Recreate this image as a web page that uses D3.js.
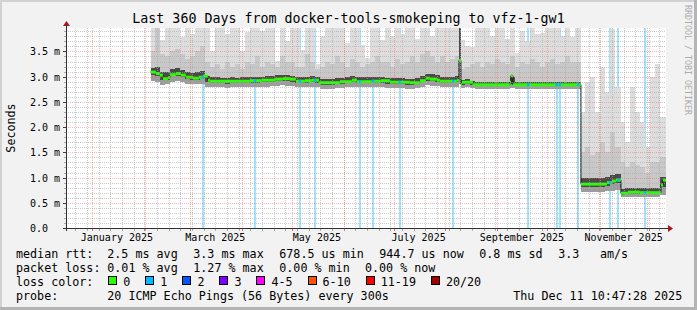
<!DOCTYPE html>
<html><head><meta charset="utf-8">
<script src="https://cdn.jsdelivr.net/npm/d3@7"></script>
<style>
html,body{margin:0;padding:0;background:#f2f2f2;}
svg{display:block;}
text{font-family:"DejaVu Sans Mono",monospace;}
</style>
</head><body>
<svg id="chart" width="697" height="310"></svg>
<script>
// ---------------- data ----------------
const title = "Last 360 Days from docker-tools-smokeping to vfz-1-gw1";
const startTime = "2024-12-16T10:47:28Z";
const endTime = "2025-12-11T10:47:28Z";
const yDomainMax = 3.965;
const yTickValues = [0, 0.5, 1.0, 1.5, 2.0, 2.5, 3.0, 3.5];
const yTickLabels = ["0.0", "0.5 m", "1.0 m", "1.5 m", "2.0 m", "2.5 m", "3.0 m", "3.5 m"];
const monthLabelDates = ["2025-01-01", "2025-03-01", "2025-05-01", "2025-07-01", "2025-09-01", "2025-11-01"];
const monthLabels = ["January 2025", "March 2025", "May 2025", "July 2025", "September 2025", "November 2025"];

// median rtt (ms) as steps: day-of-2025 where each value starts
const medDay = [35.2, 38.4, 40.8, 42.6, 45.6, 46.8, 50.4, 53.4, 56.4, 60.6, 64.2, 66.6, 69.6, 70.8, 94.8, 102,
  109.8, 114.6, 118.8, 122.4, 127.8, 132, 136.2, 148.8, 156, 159, 168, 173.4, 178.8, 190.8, 196.8, 200.4,
  202.8, 207, 208.8, 219, 220.2, 221.4, 222, 228.6, 250.8, 251.4, 252.6, 293.4, 309, 312, 314.4, 317.4,
  321.6, 328.8, 341.4, 342.6];
const medVal = [3.09, 3.06, 3.03, 2.96, 2.98, 3.04, 3.06, 3.03, 2.99, 2.97, 2.99, 3.01, 2.93, 2.91, 2.92, 2.93,
  2.95, 2.96, 2.95, 2.91, 2.92, 2.93, 2.88, 2.90, 2.93, 2.90, 2.91, 2.92, 2.89, 2.88, 2.92, 2.97,
  2.95, 2.93, 2.91, 2.93, 3.32, 2.85, 2.89, 2.84, 2.89, 3.02, 2.84, 0.87, 0.90, 0.93, 0.95, 0.69,
  0.71, 0.70, 0.85, 0.95];

// smoke (ping distribution, ms) sampled per bin starting at smokeDay
const smokeDay = [35.2, 38, 41, 44, 47, 50, 53, 56, 59, 62, 65, 68, 71, 74, 77, 80, 83, 86, 89, 92,
  95, 98, 101, 104, 107, 110, 113, 116, 119, 122, 125, 128, 131, 134, 137, 140, 143, 146, 149, 152,
  155, 158, 161, 164, 167, 170, 173, 176, 179, 182, 185, 188, 191, 194, 197, 200, 203, 206, 209, 212,
  215, 218, 220.4, 221.4, 224, 227, 230, 233, 236, 239, 242, 245, 248, 251, 254, 257, 260, 263, 266, 269,
  272, 275, 278, 281, 284, 287, 290, 293.4, 296, 299, 302, 305, 308, 311, 314, 317.4, 320, 323, 326, 329,
  332, 335, 338, 341];
const smokeMin = [2.92, 2.90, 2.84, 2.85, 2.90, 2.92, 2.90, 2.86, 2.85, 2.85,
  2.86, 2.80, 2.79, 2.79, 2.79, 2.78, 2.79, 2.79, 2.79, 2.79,
  2.80, 2.80, 2.80, 2.80, 2.81, 2.82, 2.83, 2.82, 2.81, 2.79,
  2.79, 2.79, 2.80, 2.79, 2.76, 2.76, 2.76, 2.77, 2.78, 2.79,
  2.80, 2.80, 2.79, 2.79, 2.79, 2.80, 2.80, 2.78, 2.77, 2.77,
  2.77, 2.76, 2.76, 2.78, 2.80, 2.83, 2.82, 2.81, 2.79, 2.79,
  2.79, 2.80, 2.86,
  2.78, 2.79, 2.77, 2.76, 2.76, 2.76, 2.76, 2.76,
  2.76, 2.76, 2.77, 2.76, 2.76, 2.76, 2.76, 2.76, 2.76, 2.76,
  2.76, 2.76, 2.76, 2.76, 2.76, 2.76,
  0.72, 0.72, 0.72, 0.72, 0.72, 0.73, 0.74, 0.75,
  0.61, 0.62, 0.62, 0.62, 0.62, 0.62, 0.62, 0.62, 0.66];
const smokeQ1 = [3.04, 3.01, 2.93, 2.94, 3.01, 3.02, 2.99, 2.95, 2.93, 2.94,
  2.97, 2.89, 2.87, 2.87, 2.87, 2.86, 2.87, 2.87, 2.87, 2.87,
  2.88, 2.88, 2.89, 2.89, 2.90, 2.91, 2.92, 2.91, 2.90, 2.87,
  2.88, 2.88, 2.89, 2.88, 2.84, 2.84, 2.84, 2.85, 2.86, 2.87,
  2.89, 2.88, 2.87, 2.87, 2.87, 2.88, 2.88, 2.86, 2.85, 2.85,
  2.85, 2.84, 2.84, 2.86, 2.89, 2.92, 2.91, 2.89, 2.87, 2.87,
  2.87, 2.89, 3.30,
  2.84, 2.85, 2.83, 2.81, 2.81, 2.81, 2.81, 2.81,
  2.81, 2.81, 2.85, 2.81, 2.81, 2.81, 2.81, 2.81, 2.81, 2.81,
  2.81, 2.81, 2.81, 2.81, 2.81, 2.81,
  0.82, 0.82, 0.82, 0.82, 0.82, 0.84, 0.87, 0.89,
  0.66, 0.67, 0.67, 0.67, 0.67, 0.67, 0.67, 0.67, 0.82];
const smokeQ3 = [3.18, 3.20, 3.10, 3.10, 3.16, 3.18, 3.14, 3.10, 3.08, 3.10,
  3.12, 3.02, 2.99, 2.99, 2.98, 2.98, 2.99, 2.98, 2.99, 2.99,
  3.00, 3.00, 3.00, 3.01, 3.02, 3.03, 3.04, 3.03, 3.02, 2.99,
  3.00, 3.00, 3.01, 3.00, 2.96, 2.96, 2.96, 2.97, 2.98, 2.99,
  3.01, 3.00, 2.99, 2.99, 2.99, 3.00, 3.00, 2.98, 2.97, 2.97,
  2.97, 2.96, 2.96, 2.98, 3.02, 3.06, 3.05, 3.03, 3.00, 3.00,
  3.00, 3.02, 4.30,
  2.93, 2.95, 2.92, 2.90, 2.90, 2.90, 2.90, 2.90,
  2.90, 2.90, 3.00, 2.90, 2.90, 2.90, 2.90, 2.90, 2.90, 2.90,
  2.90, 2.90, 2.90, 2.90, 2.90, 2.90,
  1.00, 1.00, 0.99, 0.99, 1.00, 1.02, 1.05, 1.07,
  0.78, 0.80, 0.80, 0.79, 0.79, 0.79, 0.79, 0.79, 1.02];
const smokeP90 = [3.50, 4.30, 3.45, 3.40, 3.50, 3.55, 3.45, 3.35, 3.40, 3.50,
  3.60, 3.30, 3.20, 3.25, 3.15, 3.30, 3.20, 3.25, 3.15, 3.30,
  3.25, 3.40, 3.20, 3.30, 3.25, 3.20, 3.40, 3.30, 3.30, 3.20,
  3.20, 3.45, 3.30, 3.15, 3.20, 3.30, 3.25, 3.40, 3.30, 3.20,
  3.35, 3.30, 3.20, 3.25, 3.30, 3.40, 3.30, 3.30, 3.20, 3.35,
  3.25, 3.30, 3.40, 3.30, 3.45, 3.50, 3.40, 3.30, 3.40, 3.30,
  3.35, 3.40, 4.30,
  3.15, 3.20, 3.25, 3.30, 3.20, 3.30, 3.25, 3.35,
  3.30, 3.25, 3.40, 3.20, 3.30, 3.25, 3.35, 3.30, 3.20, 3.30,
  3.35, 3.25, 3.30, 3.40, 3.30, 3.30,
  1.50, 1.60, 1.45, 1.50, 1.70, 1.50, 1.90, 1.60,
  1.30, 1.20, 1.30, 1.25, 1.20, 1.10, 1.30, 1.30, 1.40];
const smokeMax = [4.3, 4.3, 3.72, 4.3, 4.3, 4.3, 3.78, 4.3, 3.85, 4.3,
  4.3, 4.3, 3.50, 4.3, 4.3, 3.85, 4.3, 4.3, 3.50, 3.88,
  4.3, 4.3, 3.90, 4.3, 4.3, 3.32, 4.3, 3.70, 4.3, 4.3,
  3.52, 4.3, 4.3, 3.26, 3.80, 4.3, 4.3, 4.3, 4.3, 3.66,
  4.3, 4.3, 3.62, 3.38, 4.3, 4.3, 3.72, 4.3, 3.80, 4.3,
  3.85, 4.3, 4.3, 3.75, 4.3, 4.3, 3.80, 4.3, 4.3, 4.3,
  4.3, 4.3, 4.3,
  3.72, 3.60, 3.59, 4.3, 4.3, 4.3, 3.80, 4.3,
  4.3, 3.75, 4.3, 3.46, 3.90, 3.70, 4.3, 3.85, 3.86, 4.3,
  4.3, 4.3, 3.80, 4.3, 3.78, 4.3,
  2.3, 2.9, 3.0, 2.3, 3.2, 2.7, 3.95, 2.8,
  2.1, 1.7, 2.8, 2.3, 2.1, 1.6, 3.0, 3.26, 2.2];

// packet loss events (day-of-2025) and lost pings out of 20
const lossDay = [66.4, 97.8, 124.8, 133.8, 160.8, 168.8, 184.8, 216.8, 261.8, 278.8, 280.8, 291.8, 310.8, 315.8, 331.8];
const lossCount = [1, 1, 1, 1, 1, 1, 1, 1, 1, 1, 1, 1, 1, 1, 1];

const lossLabels = ["0", "1", "2", "3", "4-5", "6-10", "11-19", "20/20"];
const lossColors = ["#26ff00", "#00b8ff", "#0059ff", "#7e00ff", "#ff00ff", "#ff5500", "#ff0000", "#a10000"];
const lossUpper = [0, 1, 2, 3, 5, 10, 19, 20];

const rttStats = ["2.5 ms avg", "3.3 ms max", "678.5 us min", "944.7 us now", "0.8 ms sd", "3.3", "am/s"];
const lossStats = ["0.01 % avg", "1.27 % max", "0.00 % min", "0.00 % now"];
const probeText = "20 ICMP Echo Pings (56 Bytes) every 300s";
const stampText = "Thu Dec 11 10:47:28 2025";
const watermark = "RRDTOOL / TOBI OETIKER";

// ---------------- drawing ----------------
const svg = d3.select("#chart");
const W = 697, H = 310;
const PL = 66, PR = 666, PT = 28, PB = 228;
const yearStart = Date.UTC(2025, 0, 1);
const toDate = d => new Date(yearStart + d * 864e5);
const t0 = new Date(startTime), t1 = new Date(endTime);

const x = d3.scaleUtc().domain([t0, t1]).range([PL, PR]);
const y = d3.scaleLinear().domain([0, yDomainMax]).range([PB, PT]);
const px = v => Math.round(v) + 0.5;

// canvas + frame
svg.append("rect").attr("width", W).attr("height", H).attr("fill", "#f2f2f2");
svg.append("rect").attr("x", 0).attr("y", 0).attr("width", W).attr("height", 2).attr("fill", "#d2d2d2");
svg.append("rect").attr("x", 0).attr("y", 0).attr("width", 2).attr("height", H).attr("fill", "#d2d2d2");
svg.append("rect").attr("x", 0).attr("y", H - 3).attr("width", W).attr("height", 3).attr("fill", "#b4b4b4");
svg.append("rect").attr("x", W - 3).attr("y", 0).attr("width", 3).attr("height", H).attr("fill", "#b4b4b4");

// plot background
svg.append("rect").attr("x", PL).attr("y", PT).attr("width", PR - PL).attr("height", PB - PT).attr("fill", "#ffffff");

svg.append("clipPath").attr("id", "pc").append("rect")
  .attr("x", PL + 1).attr("y", PT).attr("width", PR - PL).attr("height", PB - PT);
const plot = svg.append("g").attr("clip-path", "url(#pc)");

// loss background
const lossIdx = c => lossUpper.findIndex(u => c <= u);
plot.append("g").selectAll("rect").data(lossDay).join("rect")
  .attr("x", d => Math.round(x(toDate(d))) - 1)
  .attr("y", PT).attr("width", 2).attr("height", PB - PT)
  .attr("fill", (d, i) => lossColors[lossIdx(lossCount[i])])
  .attr("fill-opacity", 0.38);

// smoke
const nS = smokeDay.length;
const sx0 = i => Math.round(x(toDate(smokeDay[i])));
const sx1 = i => Math.round(i + 1 < nS ? x(toDate(smokeDay[i + 1])) : x(t1));
const bands = [
  [smokeMin, smokeMax, "#dddddd"],
  [smokeMin, smokeP90, "#c8c8c8"],
  [smokeMin, smokeQ3, "#9c9c9c"],
  [smokeQ1, smokeQ3, "#4a4a4a"]
];
const idx = d3.range(nS);
bands.forEach(([lo, hi, col]) => {
  plot.append("g").attr("shape-rendering", "crispEdges").selectAll("rect").data(idx).join("rect")
    .attr("x", i => sx0(i))
    .attr("width", i => Math.max(1, sx1(i) - sx0(i)))
    .attr("y", i => Math.round(y(Math.min(hi[i], yDomainMax + 0.1))))
    .attr("height", i => Math.max(1, Math.round(y(lo[i])) - Math.round(y(Math.min(hi[i], yDomainMax + 0.1)))))
    .attr("fill", col);
});

// grid
const gridG = svg.append("g").attr("shape-rendering", "crispEdges");
const minorY = d3.range(1, 40).map(k => k / 10).filter(v => Math.abs(v * 2 - Math.round(v * 2)) > 1e-6);
gridG.selectAll(".hmin").data(minorY).join("line")
  .attr("x1", PL).attr("x2", PR).attr("y1", d => px(y(d))).attr("y2", d => px(y(d)))
  .attr("stroke", "#a8a8a8").attr("stroke-opacity", 0.6).attr("stroke-dasharray", "1,1");
const weeks = d3.utcSunday.range(t0, t1);
gridG.selectAll(".vmin").data(weeks).join("line")
  .attr("x1", d => px(x(d))).attr("x2", d => px(x(d))).attr("y1", PT).attr("y2", PB)
  .attr("stroke", "#a8a8a8").attr("stroke-opacity", 0.6).attr("stroke-dasharray", "1,1");
gridG.selectAll(".hmaj").data(yTickValues.slice(1)).join("line")
  .attr("x1", PL).attr("x2", PR).attr("y1", d => px(y(d))).attr("y2", d => px(y(d)))
  .attr("stroke", "#ff5a5a").attr("stroke-opacity", 0.45).attr("stroke-dasharray", "1,1");
const months = d3.utcMonth.range(t0, t1);
gridG.selectAll(".vmaj").data(months).join("line")
  .attr("x1", d => px(x(d))).attr("x2", d => px(x(d))).attr("y1", PT).attr("y2", PB)
  .attr("stroke", "#ff5a5a").attr("stroke-opacity", 0.45).attr("stroke-dasharray", "1,1");

// ticks
gridG.selectAll(".tvmin").data(weeks).join("line")
  .attr("x1", d => px(x(d))).attr("x2", d => px(x(d))).attr("y1", PB + 1).attr("y2", PB + 3)
  .attr("stroke", "#aaaaaa");
gridG.selectAll(".tvmaj").data(months).join("line")
  .attr("x1", d => px(x(d))).attr("x2", d => px(x(d))).attr("y1", PB + 1).attr("y2", PB + 3)
  .attr("stroke", "#e07070");
gridG.selectAll(".thmaj").data(yTickValues).join("line")
  .attr("x1", PL - 3).attr("x2", PL).attr("y1", d => px(y(d))).attr("y2", d => px(y(d)))
  .attr("stroke", "#404040");
gridG.selectAll(".thmin").data(minorY).join("line")
  .attr("x1", PL - 2).attr("x2", PL).attr("y1", d => px(y(d))).attr("y2", d => px(y(d)))
  .attr("stroke", "#aaaaaa");

// median line
const medPts = medDay.map((d, i) => [x(toDate(d)), y(medVal[i])]);
medPts.push([x(t1), y(medVal[medVal.length - 1])]);
plot.append("path").attr("d", d3.line().curve(d3.curveStepAfter)(medPts))
  .attr("fill", "none").attr("stroke", "#101010").attr("stroke-width", 1);
plot.append("g").selectAll("line").data(medDay).join("line")
  .attr("x1", (d, i) => x(toDate(d)))
  .attr("x2", (d, i) => i + 1 < medDay.length ? x(toDate(medDay[i + 1])) : x(t1))
  .attr("y1", (d, i) => y(medVal[i])).attr("y2", (d, i) => y(medVal[i]))
  .attr("stroke", lossColors[0]).attr("stroke-width", 3);
const medAt = d => medVal[Math.max(0, d3.bisectRight(medDay, d) - 1)];
plot.append("g").selectAll("line").data(lossDay).join("line")
  .attr("x1", d => x(toDate(d)) - 1.2).attr("x2", d => x(toDate(d)) + 1.2)
  .attr("y1", d => y(medAt(d))).attr("y2", d => y(medAt(d)))
  .attr("stroke", (d, i) => lossColors[lossIdx(lossCount[i])]).attr("stroke-width", 3);

// axes
svg.append("line").attr("x1", PL - 3).attr("x2", PR + 3).attr("y1", PB + 0.5).attr("y2", PB + 0.5)
  .attr("stroke", "#303030");
svg.append("line").attr("x1", PL + 0.5).attr("x2", PL + 0.5).attr("y1", PB + 3).attr("y2", PT - 3)
  .attr("stroke", "#303030");
svg.append("polygon").attr("points", `${PR + 2},${PB - 3} ${PR + 2},${PB + 4} ${PR + 7},${PB + 0.5}`)
  .attr("fill", "#a01c1c");
svg.append("polygon").attr("points", `${PL - 3},${PT - 2} ${PL + 4},${PT - 2} ${PL + 0.5},${PT - 7}`)
  .attr("fill", "#a01c1c");

// y labels
svg.append("g").selectAll("text").data(yTickValues).join("text")
  .attr("x", 30).attr("y", d => px(y(d)) + 3.3)
  .attr("font-size", "10px").attr("fill", "#000")
  .text((d, i) => yTickLabels[i]);

// x labels
svg.append("g").selectAll("text").data(monthLabelDates).join("text")
  .attr("x", d => x(new Date(new Date(d + "T00:00:00Z").getTime() + 15 * 864e5)))
  .attr("y", 241).attr("text-anchor", "middle")
  .attr("font-size", "10px").attr("fill", "#000")
  .text((d, i) => monthLabels[i]);

// title
svg.append("text").attr("x", W / 2).attr("y", 23.3).attr("text-anchor", "middle")
  .attr("font-size", "13.3px").attr("fill", "#000").text(title);

// vertical label
svg.append("text").attr("transform", "translate(15,128) rotate(-90)")
  .attr("text-anchor", "middle").attr("font-size", "11.7px").attr("fill", "#000").text("Seconds");

// watermark
svg.append("text").attr("transform", "translate(685,5) rotate(90)")
  .attr("font-size", "8.3px").attr("fill", "#ababab").text(watermark);

// legend
const lg = svg.append("g").attr("font-size", "11.7px").attr("fill", "#000")
  .style("white-space", "pre");
const rowY = [257.5, 271.5, 285.5, 299.5];
lg.append("text").attr("x", 16).attr("y", rowY[0]).text("median rtt:");
const rttX = [107.3, 193.3, 279.3, 379.3, 479.3, 558.3, 600];
rttStats.forEach((s, i) => lg.append("text").attr("x", rttX[i]).attr("y", rowY[0]).text(s));
lg.append("text").attr("x", 16).attr("y", rowY[1]).text("packet loss:");
const lossX = [107.3, 193.3, 279.3, 365];
lossStats.forEach((s, i) => lg.append("text").attr("x", lossX[i]).attr("y", rowY[1]).text(s));
lg.append("text").attr("x", 16).attr("y", rowY[2]).text("loss color:");
let bx = 108.3;
const cw = 7.04;
lossLabels.forEach((lab, i) => {
  lg.append("rect").attr("x", Math.round(bx) + 0.5).attr("y", 276.5).attr("width", 8).attr("height", 8)
    .attr("fill", lossColors[i]).attr("stroke", "#000").attr("stroke-width", 1);
  lg.append("text").attr("x", bx + 15).attr("y", rowY[2]).text(lab);
  bx = bx + 15 + lab.length * cw + 15;
});
lg.append("text").attr("x", 16).attr("y", rowY[3]).text("probe:");
lg.append("text").attr("x", 107.3).attr("y", rowY[3]).text(probeText);
lg.append("text").attr("x", 513.3).attr("y", rowY[3]).text(stampText);
</script>
</body></html>
